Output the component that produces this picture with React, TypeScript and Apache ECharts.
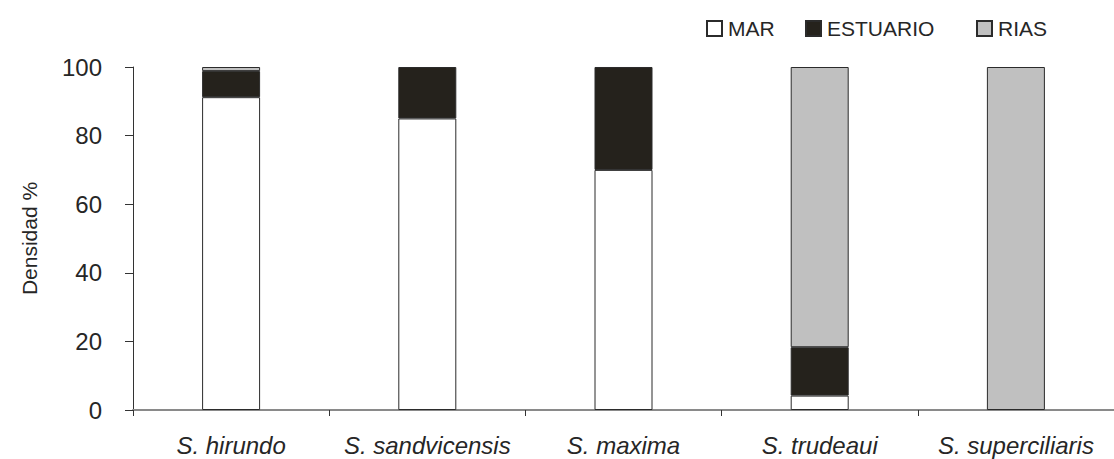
import React, { useEffect, useRef } from "react";
import * as echarts from "echarts";

const categories = ["S. hirundo", "S. sandvicensis", "S. maxima", "S. trudeaui", "S. superciliaris"];
const marValues = [91.2, 85, 70, 4.2, null];
const estuarioValues = [7.6, 15, 30, 14.1, null];
const riasValues = [1.2, null, null, 81.7, 100];
const yTicks = [0, 20, 40, 60, 80, 100];

const FONT = "'Liberation Sans', Arial, sans-serif";
const TEXT = "#262626";

export default function App() {
  const ref = useRef<HTMLDivElement>(null);
  useEffect(() => {
    if (!ref.current) return;
    const chart = echarts.init(ref.current, null, { renderer: "svg" });
    const legendBase = {
      orient: "horizontal",
      top: 13,
      icon: "rect",
      itemWidth: 15,
      itemHeight: 15,
      itemGap: 10,
      textStyle: { fontFamily: FONT, fontSize: 21, color: TEXT, padding: [0, 0, 0, 1] },
      selectedMode: false,
    };
    const barBase = {
      type: "bar",
      stack: "total",
      barWidth: 58,
      itemStyle: { borderColor: "#2b2b2b", borderWidth: 1 },
    };
    chart.setOption({
      animation: false,
      textStyle: { fontFamily: FONT },
      legend: [
        { ...legendBase, left: 701, data: ["MAR"] },
        { ...legendBase, left: 800, data: ["ESTUARIO"] },
        { ...legendBase, left: 971, data: ["RIAS"] },
      ],
      grid: { left: 133, right: -9, top: 67, bottom: 49, containLabel: false },
      xAxis: {
        type: "category",
        data: categories,
        axisLine: { show: true, lineStyle: { color: "#8a8a8a", width: 2 } },
        axisTick: { show: true, alignWithLabel: false, length: 6, lineStyle: { color: "#333" } },
        axisLabel: {
          fontFamily: FONT,
          fontSize: 24,
          fontStyle: "italic",
          color: TEXT,
          margin: 23,
          interval: 0,
        },
      },
      yAxis: {
        type: "value",
        min: yTicks[0],
        max: yTicks[yTicks.length - 1],
        interval: 20,
        name: "Densidad %",
        nameLocation: "middle",
        nameGap: 93,
        nameTextStyle: { fontFamily: FONT, fontSize: 21, color: TEXT },
        splitLine: { show: false },
        axisLine: { show: true, lineStyle: { color: "#333", width: 1 } },
        axisTick: { show: true, length: 8, lineStyle: { color: "#333" } },
        axisLabel: { fontFamily: FONT, fontSize: 24, color: TEXT, margin: 31 },
      },
      series: [
        { ...barBase, name: "MAR", data: marValues, itemStyle: { ...barBase.itemStyle, color: "#ffffff" } },
        { ...barBase, name: "ESTUARIO", data: estuarioValues, itemStyle: { ...barBase.itemStyle, color: "#25221c" } },
        { ...barBase, name: "RIAS", data: riasValues, itemStyle: { ...barBase.itemStyle, color: "#c0c0c0" } },
      ],
    });
    return () => chart.dispose();
  }, []);
  return <div ref={ref} style={{ width: 1114, height: 459, position: "absolute", left: 0, top: 0, background: "#fff" }} />;
}
